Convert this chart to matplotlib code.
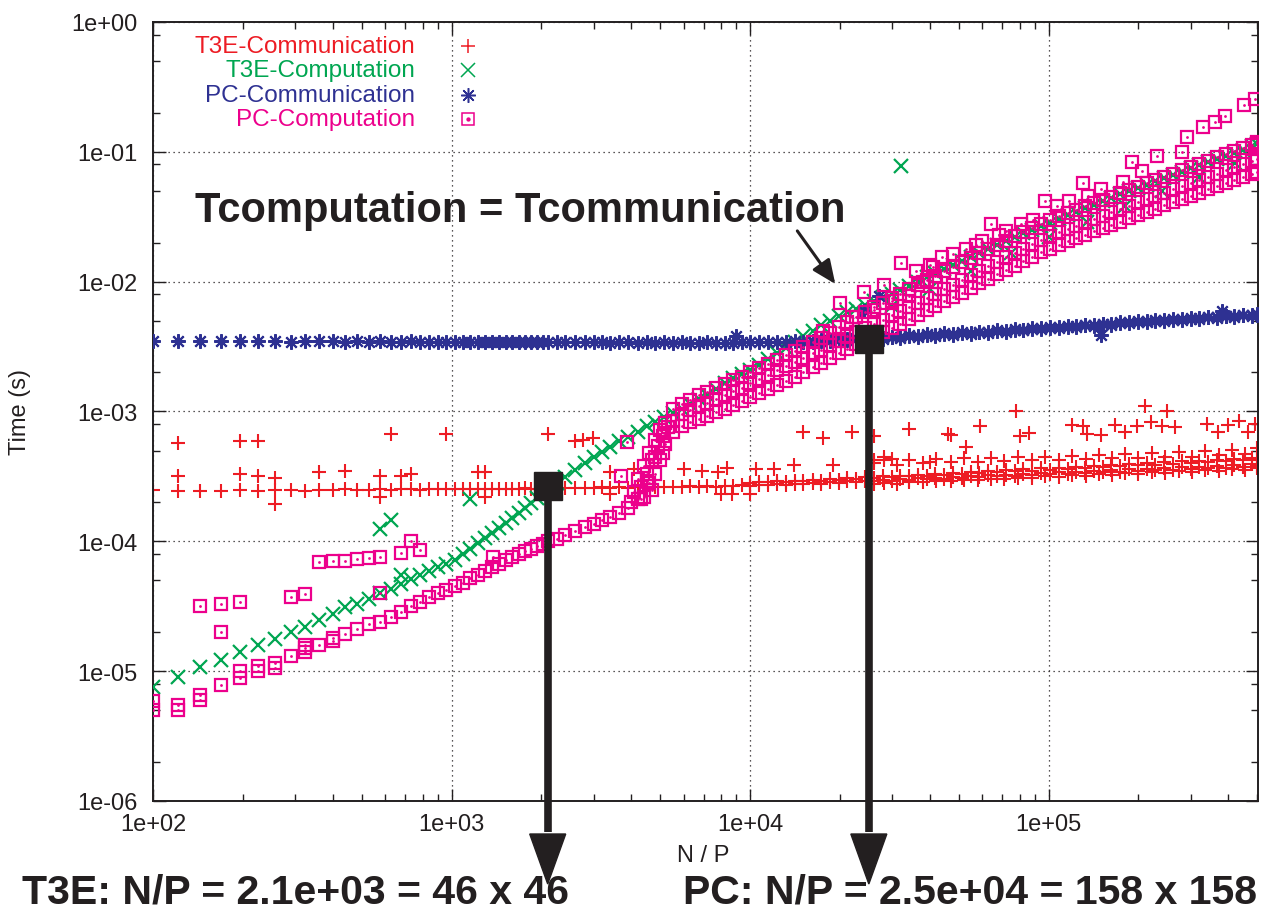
import numpy as np
import matplotlib
matplotlib.use("Agg")
import matplotlib.pyplot as plt
import matplotlib.ticker as mticker
import matplotlib.transforms as mtransforms
from matplotlib.patches import Polygon
from matplotlib.lines import Line2D

plt.rcParams['font.family'] = ['Liberation Sans', 'DejaVu Sans']

nan = float('nan')

# ---------------------------------------------------------------- data
# grid sizes n (N/P = n x n) for the small problems
grid_n_small = [10, 11, 12, 13, 14, 15, 16, 17, 18, 19,
                20, 21, 22, 23, 24, 25, 26, 27, 28, 29,
                30, 31, 32, 33, 34, 35, 36, 37, 38, 39,
                40, 41, 42, 43, 44, 45]
# N/P values (thousands) for the large problems
np_large_k = [2.1, 2.25, 2.4, 2.6, 2.8, 3.0, 3.2, 3.4, 3.65, 3.9,
              4.2, 4.5, 4.8, 5.15, 5.5, 5.9, 6.3, 6.75, 7.2, 7.7,
              8.25, 8.8, 9.4, 10, 10.7, 11.5, 12.3, 13.2, 14.1, 15.1,
              16.2, 17.3, 18.5, 19.8, 21.2, 22.7, 24.3, 26, 27.8, 29.8,
              31.9, 34.1, 36.5, 39.1, 41.8, 44.8, 47.9, 51.3, 54.9, 58.7,
              62.8, 67.2, 71.9, 77, 82.4, 88.1, 94.3, 101, 108, 116,
              124, 132, 142, 152, 162, 174, 186, 199, 213, 228,
              244, 261, 279, 299, 320, 342, 366, 392, 419, 449,
              480, 500]

# times in microseconds
t3e_comm_small = [248, 245, 246, 245, 248, 246, 247, 248, 246, 249,
                  250, 251, 249, 250, 252, 250, 251, 252, 250, 253,
                  252, 254, 251, 253, 252, 254, 253, 255, 252, 254,
                  255, 253, 256, 254, 255, 257]
t3e_comm_large = [258, 255, 258, 256, 259, 257, 260, 258, 261, 259,
                  262, 260, 263, 261, 264, 262, 265, 263, 267, 264,
                  268, 266, 270, 268, 272, 270, 275, 272, 278, 275,
                  281, 278, 285, 282, 290, 286, 294, 290, 298, 293,
                  302, 297, 306, 300, 310, 304, 314, 308, 318, 312,
                  322, 316, 327, 320, 331, 324, 336, 328, 340, 332,
                  345, 336, 349, 340, 353, 344, 358, 348, 362, 352,
                  367, 356, 372, 360, 377, 364, 382, 368, 387, 372,
                  392, 378]
t3e_comm_large_b = [nan, nan, nan, nan, nan, nan, nan, nan, nan, nan,
                    nan, nan, nan, nan, nan, nan, nan, nan, nan, nan,
                    nan, nan, nan, 282, 286, 284, 290, 287, 294, 290,
                    297, 293, 301, 298, 306, 302, 311, 307, 316, 312,
                    321, 316, 326, 321, 331, 326, 336, 331, 341, 336,
                    346, 341, 352, 346, 358, 351, 364, 356, 370, 362,
                    376, 367, 382, 373, 388, 378, 394, 384, 400, 390,
                    406, 396, 412, 402, 418, 408, 424, 414, 430, 420,
                    436, 426]

t3e_comp_small = [7.5, 9.0, 10.8, 12.2, 14.0, 16.0, 17.7, 20, 22, 25,
                  27.5, 31, 33, 36, 40, 43, 47, 51, 55, 59,
                  63, 67, 72, 80, 88, 97, 106, 116, 127, 138,
                  150, 165, 180, 198, 215, 235]
t3e_comp_large = [250, 280, 315, 355, 400, 445, 490, 530, 590, 640,
                  700, 770, 830, 900, 970, 1050, 1140, 1240, 1350, 1500,
                  1650, 1800, 1950, 2100, 2300, 2550, 2800, 3100, 3400, 3800,
                  4200, 4600, 5000, 5400, 5800, 6200, 6600, 7100, 7600, 8100,
                  8700, 9300, 10000, 10800, 11600, 12500, 13400, 14400, 15500, 16600,
                  17800, 19100, 20500, 22000, 23500, 25000, 26800, 28500, 30500, 32500,
                  34500, 36800, 39000, 41500, 44000, 47000, 50000, 53000, 56000, 59500,
                  63000, 66500, 70500, 74500, 79000, 83500, 88000, 93000, 98000, 104000,
                  110000, 114000]

pc_comm_small = [3500, 3480, 3500, 3490, 3470, 3500, 3480, 3460, 3490, 3470,
                 3480, 3460, 3470, 3450, 3480, 3460, 3450, 3470, 3440, 3460,
                 3450, 3440, 3460, 3440, 3450, 3430, 3450, 3440, 3430, 3450,
                 3420, 3440, 3430, 3420, 3440, 3420]
pc_comm_large = [3430, 3410, 3420, 3400, 3420, 3400, 3410, 3390, 3410, 3400,
                 3390, 3410, 3390, 3400, 3380, 3400, 3390, 3380, 3400, 3380,
                 3390, 3380, 3400, 3400, 3420, 3410, 3440, 3430, 3470, 3460,
                 3500, 3500, 3540, 3550, 3590, 3600, 3640, 3660, 3700, 3720,
                 3760, 3790, 3830, 3860, 3900, 3930, 3970, 4000, 4040, 4070,
                 4110, 4150, 4190, 4230, 4270, 4310, 4360, 4400, 4450, 4500,
                 4550, 4600, 4650, 4700, 4750, 4800, 4850, 4900, 4950, 5000,
                 5050, 5100, 5150, 5200, 5250, 5300, 5350, 5400, 5450, 5500,
                 5550, 5580]
pc_comm_large_b = [nan, nan, nan, nan, nan, nan, nan, nan, nan, nan,
                   nan, nan, nan, nan, nan, nan, nan, nan, nan, nan,
                   nan, nan, nan, nan, nan, nan, nan, nan, nan, nan,
                   3440, 3560, 3480, 3610, 3530, 3660, 3580, 3720, 3640, 3780,
                   3700, 3850, 3770, 3920, 3840, 3990, 3910, 4060, 3980, 4130,
                   4050, 4210, 4130, 4290, 4210, 4370, 4290, 4460, 4380, 4560,
                   4470, 4660, 4570, 4760, 4670, 4860, 4770, 4960, 4870, 5060,
                   4970, 5160, 5070, 5260, 5170, 5360, 5270, 5460, 5370, 5560,
                   5470, 5640]

pc_comp_small = [5.0, 5.5, 6.5, 7.8, 8.8, 10.0, 11.6, 13.0, 15.0, 16.0,
                 17.0, 19.5, 21, 23, 24, 26, 28.5, 32, 34, 37,
                 40, 42, 45, 48, 52, 55, 59, 63, 67, 72,
                 76, 80, 84, 88, 92, 96]
pc_comp_large = [100, 105, 112, 120, 128, 136, 145, 153, 165, 180,
                 210, 290, 450, 680, 850, 950, 1020, 1100, 1170, 1250,
                 1340, 1430, 1530, 1650, 1780, 1920, 2070, 2230, 2400, 2600,
                 2800, 3000, 3250, 3500, 3800, 4100, 4400, 4750, 5100, 5500,
                 5900, 6400, 6900, 7500, 8100, 8800, 9500, 10300, 11200, 12100,
                 13100, 14200, 15400, 16700, 18000, 19500, 21000, 22500, 24000, 25500,
                 27000, 28700, 30500, 32300, 34200, 36300, 38500, 40800, 43200, 45800,
                 48500, 51300, 54300, 57500, 60800, 64300, 68000, 71900, 76000, 80300,
                 84800, 87500]
# slower / faster runs of the PC computation at the same N/P (nan = none)
pc_comp_large_hi = [nan, nan, nan, nan, nan, nan, nan, nan, nan, nan,
                    nan, nan, nan, nan, 1050, 1150, 1230, 1330, 1420, 1520,
                    1630, 1740, 1860, 2000, 2150, 2320, 2500, 2700, 2900, 3150,
                    3400, 3700, 4050, 4450, 4900, 5350, 5850, 6350, 6900, 7500,
                    8100, 8800, 9500, 10300, 11100, 12000, 13000, 14100, 15300, 16500,
                    17800, 19200, 20700, 22300, 24000, 25800, 27800, 29800, 31800, 33800,
                    35800, 38000, 40300, 42700, 45200, 48000, 51000, 54000, 57200, 60600,
                    64200, 68000, 72000, 76300, 80800, 85500, 90500, 95800, 101000, 107000,
                    113000, 117000]
pc_comp_large_lo = [nan, nan, nan, nan, nan, nan, nan, nan, nan, nan,
                    nan, nan, nan, nan, 700, 780, 830, 880, 930, 990,
                    1050, 1120, 1200, 1290, 1380, 1490, 1600, 1720, 1850, 2000,
                    2200, 2380, 2600, 2800, 3050, 3300, 3550, 3800, 4100, 4400,
                    4750, 5150, 5550, 6000, 6500, 7050, 7600, 8250, 8950, 9700,
                    10500, 11400, 12300, 13300, 14400, 15600, 16800, 18000, 19200, 20400,
                    21600, 23000, 24400, 25800, 27300, 29000, 30800, 32600, 34500, 36600,
                    38800, 41000, 43400, 46000, 48600, 51400, 54400, 57500, 60800, 64200,
                    67800, 70000]

# additional measured points (N/P, microseconds)
t3e_comm_extra_x = [121, 121, 196, 196, 225, 225, 256, 256, 361, 441, 576, 576, 625, 676,
                    729, 961, 1225, 1296, 1296, 2100, 2600, 2750, 2970, 3400, 3400, 4100,
                    6000, 6900, 7800, 8400, 8000, 8700, 10000, 10500, 12000, 14000, 15000,
                    17500, 19000, 22000, 26000, 26000, 28000, 30000, 34000, 40000, 46000,
                    47000, 53000, 59000, 78000, 80000, 86000, 120000, 130000, 135000,
                    150000, 167000, 180000, 198000, 210000, 220000, 240000, 250000, 265000,
                    340000, 370000, 400000, 435000, 465000, 490000]
t3e_comm_extra_y = [570, 320, 590, 330, 590, 320, 310, 195, 340, 350, 320, 220, 670, 320,
                    330, 670, 340, 340, 220, 670, 590, 600, 630, 340, 230, 360,
                    360, 350, 340, 370, 230, 230, 230, 360, 360, 390, 690,
                    630, 390, 690, 650, 420, 450, 430, 730, 410, 670,
                    660, 530, 770, 1000, 650, 680, 790, 770, 670,
                    660, 790, 690, 770, 1100, 830, 770, 1000, 760,
                    800, 690, 790, 840, 700, 800]
t3e_comm_band_x = [26000, 28000, 31000, 34000, 38000, 42000, 47000, 52000, 58000, 64000,
                   71000, 79000, 88000, 97000, 108000, 120000, 133000, 147000, 163000, 181000,
                   200000, 222000, 246000, 273000, 302000, 335000, 371000, 411000, 455000, 500000]
t3e_comm_band_hi = [400, 420, 390, 425, 400, 430, 405, 435, 410, 440,
                    415, 445, 420, 450, 425, 455, 430, 460, 435, 470,
                    440, 475, 445, 485, 450, 495, 460, 505, 470, 520]
t3e_comm_band_lo = [275, 282, 278, 288, 284, 293, 290, 298, 295, 304,
                    300, 310, 306, 316, 312, 322, 318, 328, 324, 334,
                    330, 340, 336, 346, 342, 352, 348, 358, 354, 364]

t3e_comp_extra_x = [576, 625, 676, 1156, 32000,
                    30000, 40000, 55000, 75000, 100000, 135000, 180000, 240000, 320000, 420000]
t3e_comp_extra_y = [124, 145, 55, 210, 78000,
                    6500, 8800, 12000, 16500, 22000, 29000, 38000, 50000, 64000, 82000]

pc_comm_extra_x = [9000, 24000, 27000, 150000, 380000]
pc_comm_extra_y = [3800, 5900, 7700, 3900, 5900]

pc_comp_extra_x = [100, 121, 144, 196, 225, 256, 324, 324, 400,
                   144, 169, 169, 196, 289, 324, 361, 400, 441, 484, 529, 576, 576,
                   676, 729, 784, 1380, 3700, 3870]
pc_comp_extra_y = [5.9, 5.0, 6.0, 10.0, 11.0, 10.5, 14, 16, 18,
                   32, 33, 20, 34, 37, 39, 69, 70, 71, 73, 74, 76, 40,
                   82, 100, 85, 76, 320, 580]
pc_comp_wall_x = [4000, 4100, 4200, 4300, 4400, 4500, 4600, 4700, 4800, 4900, 5000,
                  5100, 5200, 5300, 4400, 4600, 4800, 5000, 5200, 4300, 4700, 5100]
pc_comp_wall_y = [200, 240, 300, 260, 380, 330, 480, 420, 600, 540, 720,
                  650, 820, 760, 220, 280, 330, 420, 560, 210, 250, 480]
pc_comp_out_x = [17500, 20000, 22000, 24000, 26000, 28000, 30000, 32000, 34000, 36000,
                 38000, 40000, 42000, 44000, 41000, 48000, 53000, 57000, 60000, 64000,
                 68000, 72000, 81000, 89000, 97000, 107000, 117000, 130000, 136000, 150000,
                 177000, 190000, 205000, 230000, 280000, 290000, 330000, 360000, 390000,
                 450000, 490000, 500000]
pc_comp_out_y = [4200, 6800, 5300, 8300, 6000, 9400, 7100, 14000, 7700, 12000,
                 9900, 13500, 10000, 15500, 13000, 16300, 17800, 19300, 20500, 28000,
                 23000, 24500, 28000, 30000, 42000, 38000, 42000, 58000, 46000, 52000,
                 59000, 83000, 71000, 93000, 100000, 130000, 155000, 170000, 190000,
                 230000, 255000, 120000]

# crossing points (annotation)
t3e_cross = (2.1e3, 2.66e-4)
pc_cross = (2.5e4, 3.6e-3)

legend_labels = ["T3E-Communication", "T3E-Computation", "PC-Communication", "PC-Computation"]
note_main = "Tcomputation = Tcommunication"
note_t3e = "T3E: N/P = 2.1e+03 = 46 x 46"
note_pc = "PC: N/P = 2.5e+04 = 158 x 158"

# ---------------------------------------------------------------- helpers
RED = "#ED1C24"
GREEN = "#00A651"
BLUE = "#2E3192"
PINK = "#EC008C"
BLACK = "#231F20"

x_small = np.array(grid_n_small, dtype=float) ** 2
x_large = np.array(np_large_k, dtype=float) * 1e3
x_all = np.concatenate([x_small, x_large])


def pair(xs, ys):
    n = min(len(xs), len(ys))
    return np.asarray(xs[:n], dtype=float), np.asarray(ys[:n], dtype=float)


W, H = 1274, 920
fig = plt.figure(figsize=(W / 100, H / 100), dpi=100)
ax = fig.add_axes([153 / W, 1 - 802 / H, (1258 - 153) / W, (802 - 23) / H])
ax.set_xscale('log')
ax.set_yscale('log')
ax.set_xlim(100, 5.03e5)
ax.set_ylim(1e-6, 1)

st_red = dict(marker='+', ms=10.5, mew=1.5, color=RED, linestyle='none')
st_green = dict(marker='x', ms=9.5, mew=1.6, color=GREEN, linestyle='none')
st_blue = dict(marker=(8, 2, 0), ms=10.5, mew=1.5, color=BLUE, linestyle='none')
st_pink = dict(marker='s', ms=9, mew=1.6, mfc='none', mec=PINK, linestyle='none')
st_pink_dot = dict(marker='o', ms=2.0, mew=0, color=PINK, linestyle='none')


def draw(xs, ys, styles, z):
    xs, ys = pair(list(xs), list(ys))
    for s in styles:
        ax.plot(xs, ys * 1e-6, zorder=z, **s)


# T3E communication
draw(x_all, list(t3e_comm_small) + list(t3e_comm_large), [st_red], 2)
draw(x_large, t3e_comm_large_b, [st_red], 2)
draw(t3e_comm_band_x, t3e_comm_band_hi, [st_red], 2)
draw(t3e_comm_band_x, t3e_comm_band_lo, [st_red], 2)
draw(t3e_comm_extra_x, t3e_comm_extra_y, [st_red], 2)
# T3E computation
draw(x_all, list(t3e_comp_small) + list(t3e_comp_large), [st_green], 3)
draw(t3e_comp_extra_x, t3e_comp_extra_y, [st_green], 3)
# PC communication
draw(x_all, list(pc_comm_small) + list(pc_comm_large), [st_blue], 4)
draw(x_large, pc_comm_large_b, [st_blue], 4)
draw(pc_comm_extra_x, pc_comm_extra_y, [st_blue], 4)
# PC computation
pst = [st_pink, st_pink_dot]
draw(x_all, list(pc_comp_small) + list(pc_comp_large), pst, 5)
draw(x_large, pc_comp_large_lo, pst, 5)
draw(x_large, pc_comp_large_hi, pst, 5)
draw(pc_comp_wall_x, pc_comp_wall_y, pst, 5)
draw(pc_comp_extra_x, pc_comp_extra_y, pst, 5)
draw(pc_comp_out_x, pc_comp_out_y, pst, 5)

# ---------------------------------------------------------------- axes style
fmt = mticker.FuncFormatter(lambda v, p: f"{v:.0e}")
ax.xaxis.set_major_locator(mticker.LogLocator(base=10, numticks=20))
ax.xaxis.set_minor_locator(mticker.LogLocator(base=10, subs=np.arange(2, 10), numticks=20))
ax.yaxis.set_major_locator(mticker.LogLocator(base=10, numticks=20))
ax.yaxis.set_minor_locator(mticker.LogLocator(base=10, subs=[2, 5, 8], numticks=20))
ax.xaxis.set_major_formatter(fmt)
ax.yaxis.set_major_formatter(fmt)
ax.xaxis.set_minor_formatter(mticker.NullFormatter())
ax.yaxis.set_minor_formatter(mticker.NullFormatter())
ax.tick_params(which='both', direction='in', top=True, right=True, colors=BLACK,
               labelsize=17, width=1.0)
ax.tick_params(which='major', length=9)
ax.tick_params(which='minor', length=5)
ax.tick_params(axis='y', pad=11)
ax.tick_params(axis='x', pad=9)
for sp in ax.spines.values():
    sp.set_linewidth(1.4)
    sp.set_color(BLACK)
ax.grid(True, which='major', color=BLACK, linestyle=(0, (1, 3)), linewidth=0.9)
ax.set_axisbelow(True)

fig.text(703 / W, 1 - 856 / H, "N / P", fontsize=17, ha='center', va='center', color=BLACK)
fig.text(20 / W, 1 - 412 / H, "Time (s)", fontsize=17, ha='center', va='center',
         rotation=90, color=BLACK)

# ---------------------------------------------------------------- legend
leg_rows_px = [47, 71, 96, 120]
leg_styles = [[st_red], [st_green], [st_blue], pst]
leg_colors = [RED, GREEN, BLUE, PINK]
for lab, py, sts, col in zip(legend_labels, leg_rows_px, leg_styles, leg_colors):
    yf = (802 - py) / 779
    ax.text((415 - 153) / 1105, yf, lab, transform=ax.transAxes, ha='right', va='center',
            fontsize=17.5, color=col)
    for s in sts:
        s2 = dict(s)
        s2['mew'] = 1.1
        ax.plot([(468 - 153) / 1105], [yf], transform=ax.transAxes, clip_on=False,
                zorder=8, **s2)

# ---------------------------------------------------------------- annotations
fig.text(195 / W, 1 - 222 / H, note_main, fontsize=30, fontweight='bold',
         ha='left', va='baseline', color=BLACK)
ax.annotate('', xy=(1.93e4, 9.6e-3), xytext=(1.44e4, 2.46e-2),
            arrowprops=dict(arrowstyle='-|>,head_length=0.8,head_width=0.35',
                            lw=2.2, color=BLACK, mutation_scale=18,
                            shrinkA=0, shrinkB=0), zorder=9)

ident = mtransforms.IdentityTransform()
for (cx, cy) in [t3e_cross, pc_cross]:
    px, py = ax.transData.transform((cx, cy))
    base = H - 835
    tip = H - 885
    fig.add_artist(Line2D([px, px], [py, base + 2], transform=ident, lw=5.5,
                          color=BLACK, solid_capstyle='butt', zorder=9))
    fig.add_artist(Polygon([[px - 18, base], [px + 18, base], [px, tip]], closed=True,
                           transform=ident, facecolor=BLACK, edgecolor=BLACK, zorder=9))
    ax.plot([cx], [cy], marker='s', ms=20, color=BLACK, zorder=10, linestyle='none')

fig.text(22 / W, 1 - 904 / H, note_t3e, fontsize=29.5, fontweight='bold',
         ha='left', va='baseline', color=BLACK)
fig.text(683 / W, 1 - 904 / H, note_pc, fontsize=29.5, fontweight='bold',
         ha='left', va='baseline', color=BLACK)

fig.savefig("out.png", dpi=100)
